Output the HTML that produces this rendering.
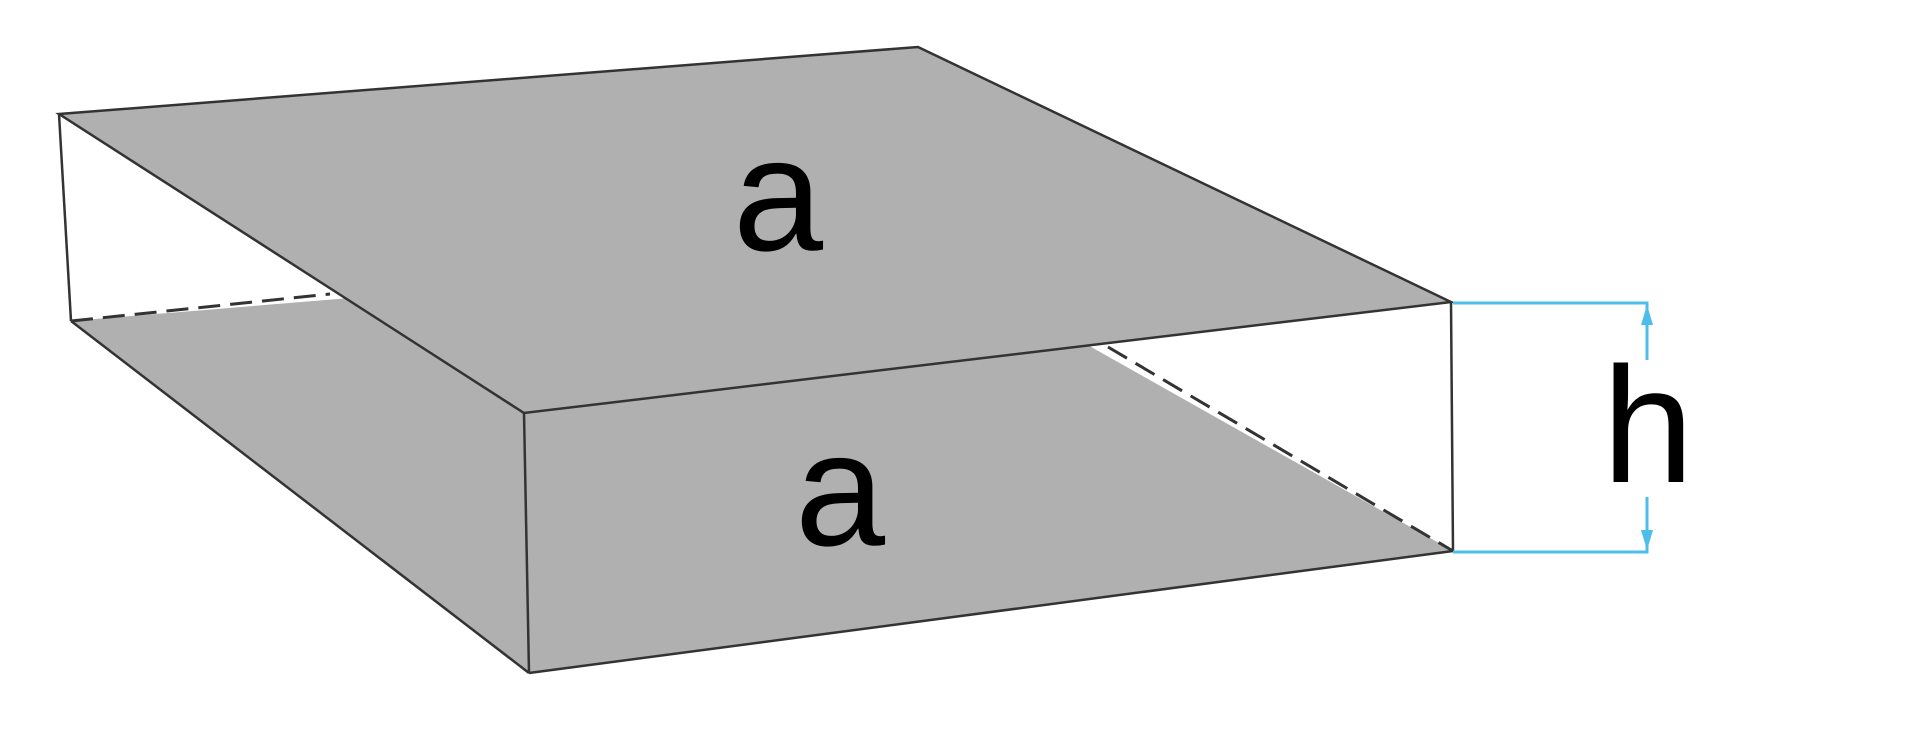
<!DOCTYPE html>
<html><head><style>html,body{margin:0;padding:0;background:#fff;}</style></head>
<body>
<svg width="1920" height="753" xmlns="http://www.w3.org/2000/svg" style="display:block">
<polygon points="71,321 921,251 1453,551 529,673" fill="#b0b0b0"/>
<line x1="59" y1="114" x2="71" y2="321" stroke="#333" stroke-width="2.5"/>
<line x1="71" y1="321" x2="529" y2="673" stroke="#333" stroke-width="2.5"/>
<line x1="529" y1="673" x2="1453" y2="551" stroke="#333" stroke-width="2.5"/>
<line x1="71" y1="321" x2="330" y2="294" stroke="#333" stroke-width="3" stroke-dasharray="22,10"/>
<line x1="1108" y1="347" x2="1453" y2="551" stroke="#333" stroke-width="3" stroke-dasharray="22,10"/>
<polygon points="59,114 918,47 1451,302 524,413" fill="#b0b0b0" stroke="#333" stroke-width="2.5"/>
<line x1="524" y1="413" x2="529" y2="673" stroke="#333" stroke-width="2.5"/>
<line x1="1451" y1="302" x2="1453" y2="551" stroke="#333" stroke-width="2.5"/>
<g stroke="#4dbde9" stroke-width="3" fill="none">
<polyline points="1453,303 1647,303 1647,360"/>
<polyline points="1453,552 1647,552 1647,497"/>
</g>
<polygon points="1647,305 1641,325 1653,325" fill="#4dbde9"/>
<polygon points="1647,550 1641,530 1653,530" fill="#4dbde9"/>
<text x="1648" y="482" font-family="Liberation Sans, sans-serif" font-size="165" text-anchor="middle" fill="#000">h</text>
<text x="778" y="250" font-family="Liberation Sans, sans-serif" font-size="162" text-anchor="middle" fill="#000">a</text>
<text x="840" y="545" font-family="Liberation Sans, sans-serif" font-size="162" text-anchor="middle" fill="#000">a</text>
</svg>
</body></html>
